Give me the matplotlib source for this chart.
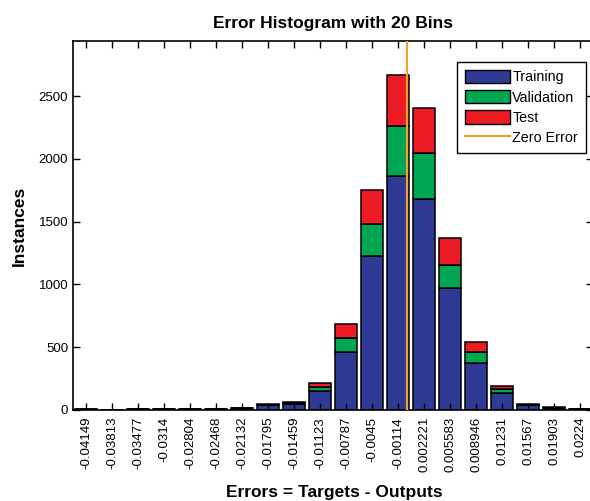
import numpy as np
import matplotlib
matplotlib.use("Agg")
import matplotlib.pyplot as plt
from matplotlib.patches import Patch
from matplotlib.lines import Line2D

bin_labels = ["-0.04149", "-0.03813", "-0.03477", "-0.0314", "-0.02804",
              "-0.02468", "-0.02132", "-0.01795", "-0.01459", "-0.01123",
              "-0.00787", "-0.0045", "-0.00114", "0.002221", "0.005583",
              "0.008946", "0.01231", "0.01567", "0.01903", "0.0224"]
training = [3, 2, 4, 4, 4, 4, 12, 38, 48, 152, 463, 1228, 1867, 1683, 968, 376, 135, 36, 16, 5]
validation = [1, 0, 1, 1, 1, 1, 3, 4, 7, 32, 111, 253, 397, 365, 188, 84, 32, 5, 3, 1]
test = [1, 1, 1, 1, 1, 1, 2, 3, 5, 30, 114, 273, 408, 359, 214, 82, 22, 4, 2, 1]

c_train = "#2E3A94"
c_val = "#00A651"
c_test = "#ED1C24"
c_zero = "#F0A032"

plt.rcParams["font.family"] = ["Liberation Sans", "DejaVu Sans"]

fig = plt.figure(figsize=(5.9, 5.01), dpi=100)
ax = fig.add_axes([73 / 590, 91 / 501, 520 / 590, 369 / 501])

pos = np.arange(1, len(bin_labels) + 1)
tr = np.array(training)
va = np.array(validation)
te = np.array(test)
ax.bar(pos, tr, width=0.82, color=c_train, edgecolor="black", linewidth=1.1)
ax.bar(pos, va, width=0.82, bottom=tr, color=c_val, edgecolor="black", linewidth=1.1)
ax.bar(pos, te, width=0.82, bottom=tr + va, color=c_test, edgecolor="black", linewidth=1.1)

# zero error position in bin coordinates
centers = np.array([float(s) for s in bin_labels])
step = (centers[-1] - centers[0]) / (len(centers) - 1)
zero_pos = 1 + (0 - centers[0]) / step
ax.axvline(zero_pos, color=c_zero, linewidth=1.6, zorder=5)

total_max = (tr + va + te).max()
ax.set_xlim(0.5, 20.5)
ax.set_ylim(0, total_max * 1.1)

ax.set_xticks(pos)
ax.set_xticklabels(bin_labels, rotation=90, fontsize=9.5)
ax.set_yticks([0, 500, 1000, 1500, 2000, 2500])
ax.tick_params(axis="y", labelsize=9.5, pad=3.5)
ax.tick_params(axis="x", pad=5)
ax.tick_params(direction="in", length=5, width=1, top=True, right=True)
for s in ax.spines.values():
    s.set_linewidth(1.2)

ax.set_title("Error Histogram with 20 Bins", fontsize=12.5, fontweight="bold", pad=9)
ax.set_xlabel("Errors = Targets - Outputs", fontsize=12.5, fontweight="bold")
ax.xaxis.set_label_coords(0.502, -0.203)
ax.set_ylabel("Instances", fontsize=12.5, fontweight="bold")
ax.yaxis.set_label_coords(-0.088, 0.5)

handles = [Patch(facecolor=c_train, edgecolor="black", label="Training"),
           Patch(facecolor=c_val, edgecolor="black", label="Validation"),
           Patch(facecolor=c_test, edgecolor="black", label="Test"),
           Line2D([0], [0], color=c_zero, linewidth=1.6, label="Zero Error")]
leg = fig.legend(handles=handles, loc="upper right",
                 bbox_to_anchor=(586 / 590, 1 - 62 / 501),
                 fontsize=10.3, fancybox=False, framealpha=1,
                 edgecolor="black", handlelength=3.1, handleheight=1.05,
                 handletextpad=0.2, labelspacing=0.4, borderpad=0.55,
                 borderaxespad=0)
leg.get_frame().set_linewidth(1)

fig.savefig("out.png", dpi=100)
